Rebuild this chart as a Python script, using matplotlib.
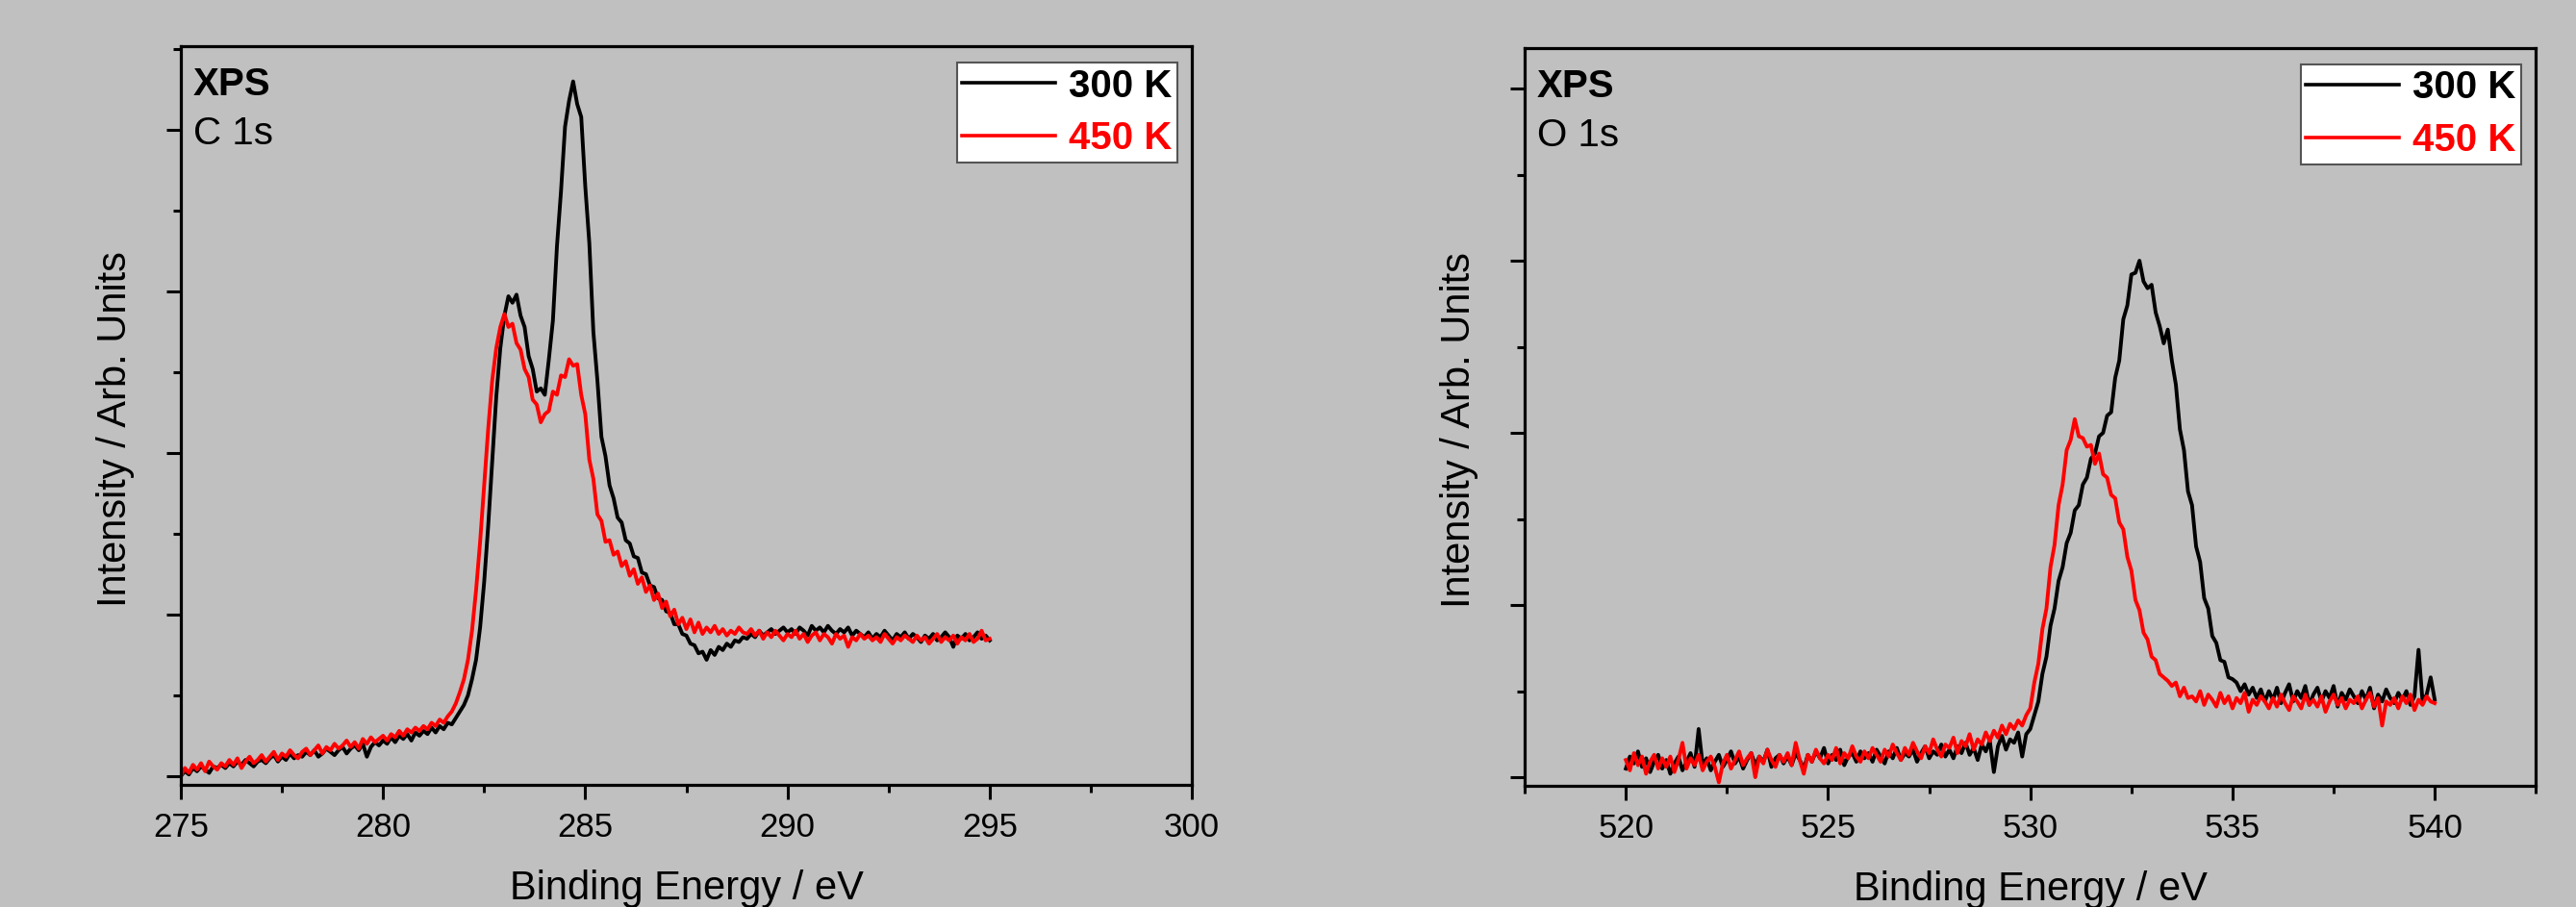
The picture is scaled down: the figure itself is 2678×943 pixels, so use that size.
import numpy as np
import matplotlib
matplotlib.use('Agg')
import matplotlib.pyplot as plt
from matplotlib.ticker import MultipleLocator, NullFormatter

plt.rcParams['font.family'] = ['Liberation Sans', 'DejaVu Sans']

# C 1s, 275.0 - 295.0 eV, 0.1 eV steps (arb. units)
c1s_300 = [
    0.00, 0.03, 0.01, 0.05, 0.03, 0.06, 0.04, 0.02, 0.06, 0.05,
    0.07, 0.05, 0.08, 0.06, 0.09, 0.07, 0.10, 0.08, 0.06, 0.09,
    0.10, 0.08, 0.11, 0.13, 0.09, 0.12, 0.10, 0.14, 0.11, 0.13,
    0.12, 0.15, 0.13, 0.16, 0.12, 0.14, 0.17, 0.15, 0.13, 0.16,
    0.18, 0.14, 0.17, 0.19, 0.16, 0.20, 0.12, 0.18, 0.21, 0.19,
    0.22, 0.20, 0.24, 0.21, 0.25, 0.23, 0.26, 0.22, 0.27, 0.25,
    0.28, 0.26, 0.30, 0.27, 0.31, 0.29, 0.33, 0.32, 0.36, 0.40,
    0.44, 0.50, 0.60, 0.72, 0.92, 1.20, 1.55, 1.95, 2.35, 2.65,
    2.85, 2.97, 2.93, 2.98, 2.85, 2.78, 2.60, 2.52, 2.38, 2.40,
    2.36, 2.58, 2.82, 3.28, 3.62, 4.02, 4.18, 4.30, 4.16, 4.08,
    3.65, 3.30, 2.75, 2.45, 2.10, 1.98, 1.80, 1.72, 1.60, 1.57,
    1.46, 1.44, 1.36, 1.35, 1.26, 1.25, 1.18, 1.17, 1.10, 1.09,
    1.02, 1.01, 0.94, 0.94, 0.88, 0.87, 0.82, 0.81, 0.76, 0.77,
    0.72, 0.78, 0.75, 0.80, 0.78, 0.82, 0.80, 0.84, 0.83, 0.86,
    0.85, 0.88, 0.86, 0.90, 0.87, 0.89, 0.91, 0.88, 0.90, 0.92,
    0.89, 0.91, 0.88, 0.92, 0.90, 0.87, 0.93, 0.90, 0.92, 0.89,
    0.93, 0.90, 0.88, 0.91, 0.89, 0.92, 0.87, 0.90, 0.88, 0.86,
    0.89, 0.85, 0.88, 0.86, 0.90, 0.87, 0.84, 0.88, 0.86, 0.89,
    0.85, 0.88, 0.86, 0.83, 0.87, 0.85, 0.88, 0.84, 0.86, 0.89,
    0.86, 0.80, 0.87, 0.85, 0.88, 0.84, 0.86, 0.89, 0.85, 0.87,
    0.84,
]
c1s_450 = [
    0.00, 0.05, 0.02, 0.07, 0.04, 0.08, 0.03, 0.09, 0.06, 0.04,
    0.08, 0.06, 0.10, 0.07, 0.11, 0.05, 0.09, 0.12, 0.08, 0.10,
    0.13, 0.09, 0.12, 0.15, 0.10, 0.14, 0.12, 0.16, 0.13, 0.11,
    0.15, 0.17, 0.13, 0.16, 0.19, 0.14, 0.18, 0.16, 0.20, 0.17,
    0.19, 0.22, 0.18, 0.21, 0.17, 0.23, 0.20, 0.24, 0.21, 0.23,
    0.25, 0.22, 0.26, 0.24, 0.28, 0.25, 0.29, 0.27, 0.30, 0.28,
    0.31, 0.29, 0.33, 0.31, 0.35, 0.33, 0.37, 0.40, 0.45, 0.52,
    0.60, 0.72, 0.90, 1.15, 1.45, 1.80, 2.15, 2.45, 2.65, 2.78,
    2.86, 2.78, 2.80, 2.68, 2.64, 2.52, 2.47, 2.33, 2.30, 2.19,
    2.24, 2.26, 2.38, 2.36, 2.48, 2.47, 2.58, 2.54, 2.55, 2.36,
    2.24, 1.96, 1.84, 1.62, 1.58, 1.45, 1.46, 1.37, 1.39, 1.30,
    1.33, 1.24, 1.28, 1.19, 1.23, 1.14, 1.18, 1.09, 1.13, 1.04,
    1.08, 0.99, 1.03, 0.94, 0.98, 0.91, 0.97, 0.89, 0.95, 0.88,
    0.92, 0.89, 0.93, 0.88, 0.91, 0.87, 0.90, 0.88, 0.92, 0.89,
    0.88, 0.91, 0.87, 0.90, 0.85, 0.89, 0.86, 0.90, 0.87, 0.84,
    0.88, 0.86, 0.90, 0.85, 0.88, 0.83, 0.87, 0.89, 0.84, 0.88,
    0.86, 0.82, 0.88, 0.85, 0.87, 0.80, 0.86, 0.84, 0.88, 0.85,
    0.87, 0.84, 0.86, 0.83, 0.88, 0.85, 0.82, 0.86, 0.84, 0.87,
    0.85, 0.83, 0.87, 0.84, 0.86, 0.82, 0.85, 0.88, 0.83, 0.86,
    0.84, 0.87, 0.82, 0.86, 0.84, 0.88, 0.83, 0.85, 0.90, 0.84,
    0.85,
]

# O 1s, 520.0 - 540.0 eV, 0.1 eV steps (arb. units)
o1s_300 = [
    0.05, 0.12, 0.08, 0.15, 0.06, 0.11, 0.03, 0.09, 0.13, 0.05,
    0.10, 0.02, 0.08, 0.12, 0.04, 0.09, 0.14, 0.06, 0.28, 0.07,
    0.11, 0.04, 0.09, 0.13, 0.06, 0.10, 0.15, 0.08, 0.12, 0.05,
    0.10, 0.14, 0.07, 0.12, 0.09, 0.16, 0.06, 0.11, 0.13, 0.08,
    0.12, 0.07, 0.14, 0.10, 0.05, 0.13, 0.09, 0.15, 0.11, 0.17,
    0.08, 0.13, 0.10, 0.16, 0.07, 0.12, 0.14, 0.09, 0.15, 0.11,
    0.14, 0.09, 0.16, 0.12, 0.08, 0.15, 0.11, 0.17, 0.10, 0.14,
    0.12, 0.16, 0.09, 0.14, 0.18, 0.11, 0.15, 0.13, 0.19, 0.12,
    0.16, 0.11, 0.18, 0.14, 0.20, 0.13, 0.17, 0.10, 0.19, 0.15,
    0.21, 0.03, 0.18, 0.24, 0.16, 0.22, 0.20, 0.26, 0.12, 0.25,
    0.28, 0.36, 0.44, 0.60, 0.70, 0.88, 0.98, 1.14, 1.22, 1.36,
    1.42, 1.55, 1.58, 1.70, 1.74, 1.85, 1.88, 1.98, 2.00, 2.10,
    2.12, 2.32, 2.42, 2.66, 2.74, 2.92, 2.93, 3.00, 2.88, 2.84,
    2.86, 2.70, 2.62, 2.52, 2.60, 2.42, 2.28, 2.02, 1.90, 1.66,
    1.58, 1.34, 1.25, 1.04, 0.98, 0.82, 0.78, 0.68, 0.67, 0.58,
    0.57, 0.55, 0.50, 0.54, 0.48, 0.52, 0.46, 0.51, 0.44, 0.50,
    0.45, 0.52, 0.43, 0.49, 0.54, 0.44, 0.50, 0.46, 0.53, 0.42,
    0.48, 0.52, 0.44, 0.50, 0.46, 0.53, 0.41, 0.49, 0.45, 0.51,
    0.47, 0.43, 0.50, 0.45, 0.52, 0.40, 0.48, 0.44, 0.51, 0.46,
    0.43, 0.49, 0.45, 0.50, 0.42, 0.47, 0.74, 0.44, 0.48, 0.58,
    0.45,
]
o1s_450 = [
    0.10, 0.04, 0.14, 0.07, 0.12, 0.02, 0.09, 0.13, 0.05, 0.11,
    0.06, 0.12, 0.03, 0.10, 0.20, 0.05, 0.11, 0.07, 0.13, 0.04,
    0.09, 0.12, 0.06, -0.03, 0.08, 0.13, 0.05, 0.10, 0.15, 0.07,
    0.11, 0.14, 0.00, 0.12, 0.08, 0.16, 0.10, 0.06, 0.13, 0.09,
    0.14, 0.07, 0.20, 0.10, 0.02, 0.13, 0.09, 0.16, 0.11, 0.08,
    0.13, 0.10, 0.17, 0.08, 0.14, 0.11, 0.18, 0.12, 0.09, 0.15,
    0.11, 0.17, 0.13, 0.09, 0.16, 0.12, 0.19, 0.14, 0.10, 0.17,
    0.13, 0.20, 0.15, 0.11, 0.18, 0.14, 0.22, 0.16, 0.12, 0.19,
    0.17, 0.23, 0.14, 0.21, 0.18, 0.25, 0.16, 0.22, 0.19, 0.26,
    0.21, 0.27, 0.23, 0.30, 0.25, 0.31, 0.28, 0.33, 0.30, 0.36,
    0.40, 0.55, 0.66, 0.86, 0.98, 1.22, 1.35, 1.58, 1.70, 1.90,
    1.96, 2.08, 1.98, 1.97, 1.92, 1.93, 1.82, 1.88, 1.76, 1.74,
    1.64, 1.62, 1.48, 1.44, 1.28, 1.20, 1.03, 0.97, 0.84, 0.80,
    0.70, 0.68, 0.60, 0.58, 0.56, 0.53, 0.55, 0.47, 0.52, 0.46,
    0.47, 0.44, 0.50, 0.42, 0.48, 0.45, 0.41, 0.49, 0.43, 0.47,
    0.40, 0.46, 0.43, 0.49, 0.38, 0.45, 0.42, 0.47, 0.44, 0.40,
    0.46, 0.41, 0.48, 0.43, 0.39, 0.47, 0.44, 0.40, 0.48, 0.42,
    0.45, 0.41, 0.47, 0.38, 0.44, 0.48, 0.42, 0.46, 0.40, 0.45,
    0.43, 0.47, 0.40, 0.45, 0.49, 0.41, 0.46, 0.30, 0.44, 0.42,
    0.46, 0.40, 0.47, 0.43, 0.48, 0.39, 0.45, 0.42, 0.47, 0.44,
    0.43,
]

c1s_energy = np.linspace(275, 295, len(c1s_300))
o1s_energy = np.linspace(520, 540, len(o1s_300))

bg = '#c0c0c0'
fig = plt.figure(figsize=(26.78, 9.43), dpi=100, facecolor=bg)

panels = [
    # axes rect, energy, 300 K, 450 K, label, xlim, ylim, major x ticks
    ([0.0702, 0.1347, 0.3925, 0.8144], c1s_energy, c1s_300, c1s_450, 'C 1s',
     (275, 300), (-0.054, 4.518), np.arange(275, 301, 5)),
    ([0.5919, 0.1336, 0.3925, 0.8134], o1s_energy, o1s_300, o1s_450, 'O 1s',
     (517.5, 542.5), (-0.05, 4.235), np.arange(520, 541, 5)),
]

for rect, en, y300, y450, core, xlim, ylim, xt in panels:
    ax = fig.add_axes(rect)
    ax.set_facecolor(bg)
    ax.plot(en, y300, color='black', lw=2.8, label='300 K')
    ax.plot(en, y450, color='red', lw=2.8, label='450 K')

    ax.set_xlim(*xlim)
    ax.set_ylim(*ylim)
    ax.set_xticks(xt)
    ax.xaxis.set_minor_locator(MultipleLocator(2.5))
    ax.yaxis.set_major_locator(MultipleLocator(1))
    ax.yaxis.set_minor_locator(MultipleLocator(0.5))
    ax.yaxis.set_major_formatter(NullFormatter())

    for s in ax.spines.values():
        s.set_linewidth(2.3)
    ax.tick_params(which='major', direction='out', length=11, width=2.2,
                   labelsize=25, pad=9, top=False, right=False)
    ax.tick_params(which='minor', direction='out', length=5.5, width=2.2,
                   top=False, right=False)

    ax.set_xlabel('Binding Energy / eV', fontsize=30)
    ax.xaxis.set_label_coords(0.5, -0.115)
    ax.set_ylabel('Intensity / Arb. Units', fontsize=30)
    ax.yaxis.set_label_coords(-0.046, 0.482)

    ax.text(0.012, 0.934, 'XPS', transform=ax.transAxes, fontsize=29,
            fontweight='bold', va='baseline')
    ax.text(0.012, 0.867, core, transform=ax.transAxes, fontsize=29,
            va='baseline')

    leg = ax.legend(loc='upper right', bbox_to_anchor=(0.9857, 0.978),
                    borderaxespad=0, fancybox=False, framealpha=1,
                    edgecolor='#555555', facecolor='white',
                    prop={'size': 29, 'weight': 'bold'}, labelcolor='linecolor',
                    handlelength=2.4, handletextpad=0.35, labelspacing=0.42,
                    borderpad=0.14)
    leg.get_frame().set_linewidth(1.5)
    for h in leg.get_lines():
        h.set_linewidth(2.6)

fig.savefig('out.png', dpi=100, facecolor=bg)
